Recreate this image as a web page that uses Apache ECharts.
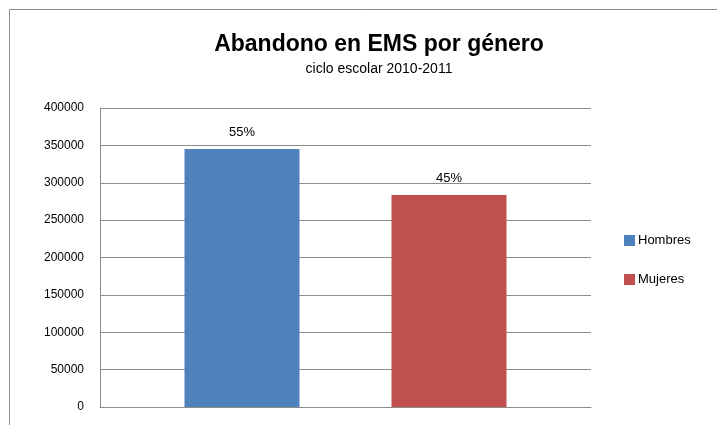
<!DOCTYPE html>
<html lang="es">
<head>
    <meta charset="UTF-8">
    <title>Abandono en EMS por género</title>
    <style>
        * { box-sizing: border-box; margin: 0; padding: 0; }
        body { background: #ffffff; }
        #chart { width: 717px; height: 425px; }
    </style>
    <script src="https://cdn.jsdelivr.net/npm/echarts@6/dist/echarts.min.js"></script>
</head>
<body>
    <div id="chart"></div>

    <script>
        // datos
        const categories = ['ciclo 2010-2011'];
        const seriesNames = ['Hombres', 'Mujeres'];
        const hombres = [345000];
        const mujeres = [283600];
        const yTicks = [0, 50000, 100000, 150000, 200000, 250000, 300000, 350000, 400000];

        const colors = ['#4F81BD', '#C0504D'];
        const font = 'Liberation Sans';
        const total = hombres[0] + mujeres[0];

        function pct(p) {
            return Math.round(p.value / total * 100) + '%';
        }

        const chart = echarts.init(document.getElementById('chart'));
        chart.setOption({
            animation: false,
            textStyle: { fontFamily: font },
            graphic: [{
                type: 'rect',
                shape: { x: 9.5, y: 9.5, width: 900, height: 600 },
                style: { fill: 'none', stroke: '#8c8c8c', lineWidth: 1 }
            }],
            title: {
                text: 'Abandono en EMS por género',
                subtext: 'ciclo escolar 2010-2011',
                left: 374,
                textAlign: 'center',
                top: 28,
                itemGap: 6,
                textStyle: { fontFamily: font, fontSize: 23, fontWeight: 'bold', color: '#000' },
                subtextStyle: { fontFamily: font, fontSize: 14, color: '#000' }
            },
            legend: {
                orient: 'vertical',
                left: 619,
                top: 229,
                itemWidth: 11,
                itemHeight: 11,
                itemGap: 26,
                icon: 'rect',
                data: seriesNames,
                textStyle: { fontFamily: font, fontSize: 13, color: '#000', padding: [0, 0, 0, -2] }
            },
            grid: { left: 100, right: 126, top: 108, bottom: 18 },
            xAxis: {
                type: 'category',
                data: categories,
                axisLine: { lineStyle: { color: '#8c8c8c' } },
                axisTick: { show: false },
                axisLabel: { show: false }
            },
            yAxis: {
                type: 'value',
                min: yTicks[0],
                max: yTicks[yTicks.length - 1],
                interval: yTicks[1] - yTicks[0],
                axisLine: { show: true, lineStyle: { color: '#8c8c8c' } },
                axisTick: { show: false },
                splitLine: { lineStyle: { color: '#8c8c8c' } },
                axisLabel: { color: '#000', fontSize: 12, margin: 16, formatter: v => String(v) }
            },
            series: [{
                name: seriesNames[0],
                type: 'bar',
                data: hombres,
                barWidth: 115,
                barGap: '80%',
                itemStyle: { color: colors[0] },
                label: { show: true, position: 'top', distance: 10, formatter: pct, color: '#000', fontSize: 13 }
            }, {
                name: seriesNames[1],
                type: 'bar',
                data: mujeres,
                barWidth: 115,
                barGap: '80%',
                itemStyle: { color: colors[1] },
                label: { show: true, position: 'top', distance: 10, formatter: pct, color: '#000', fontSize: 13 }
            }]
        });
    </script>
</body>
</html>
